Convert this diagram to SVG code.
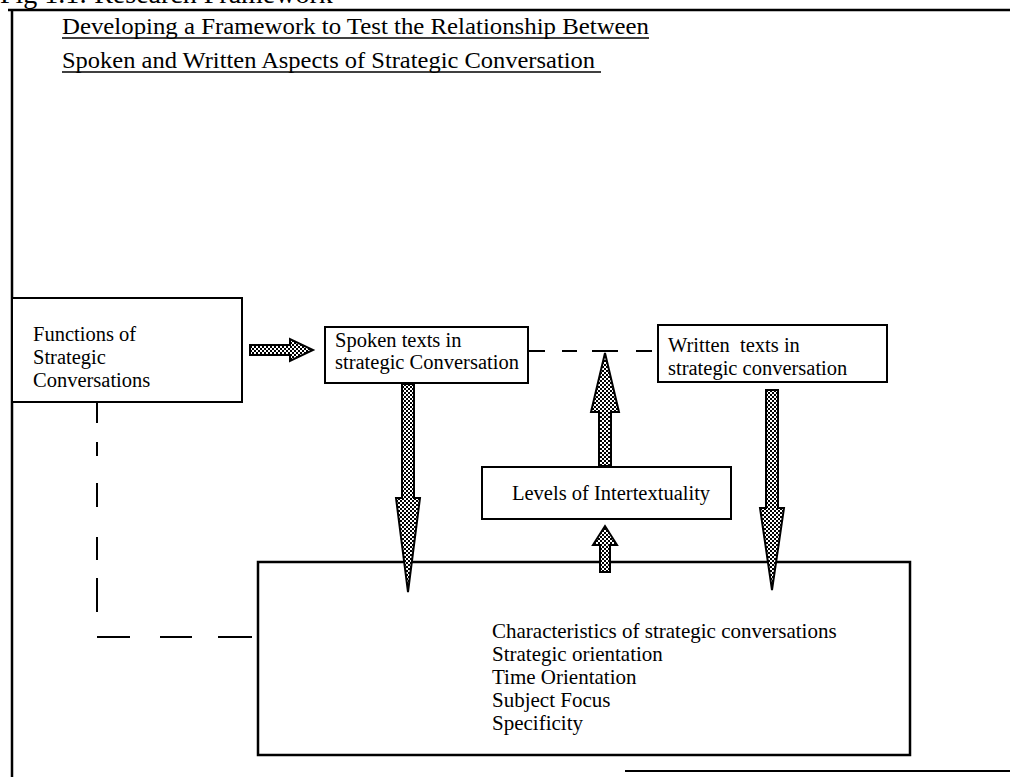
<svg xmlns="http://www.w3.org/2000/svg" width="1018" height="777" viewBox="0 0 1018 777">
<style>
.t{font-family:"Liberation Serif","Times New Roman",serif;font-size:20.5px;fill:#000}
.ttl{font-family:"Liberation Serif","Times New Roman",serif;font-size:24px;fill:#000}
.box{fill:#fff;stroke:#000;stroke-width:2}
.arr{fill:url(#dots);stroke:#000;stroke-width:2;stroke-linejoin:miter}
.dash{stroke:#000;stroke-width:2;fill:none}
.frame{stroke:#000;stroke-width:2.5;fill:none}
</style>
<defs>
<pattern id="dots" width="4" height="4" patternUnits="userSpaceOnUse">
<rect width="4" height="4" fill="#fff"/>
<rect width="2" height="2" fill="#000"/>
<rect x="2" y="2" width="2" height="2" fill="#000"/>
</pattern>
</defs>
<rect width="1018" height="777" fill="#fff"/>
<g id="frame">
<text class="ttl" x="0" y="3" style="font-size:28px">Fig 1.1: Research Framework</text>
<line class="frame" x1="8" y1="10" x2="1010" y2="10"/>
<line class="frame" x1="12" y1="10" x2="12" y2="777"/>
<line x1="625" y1="771" x2="1010" y2="771" stroke="#000" stroke-width="2"/>
</g>
<g id="title">
<text class="ttl" x="62" y="34" textLength="587" lengthAdjust="spacingAndGlyphs">Developing a Framework to Test the Relationship Between</text>
<line x1="62" y1="38" x2="649" y2="38" stroke="#000" stroke-width="1.5"/>
<text class="ttl" x="62" y="68" textLength="533" lengthAdjust="spacingAndGlyphs">Spoken and Written Aspects of Strategic Conversation</text>
<line x1="62" y1="72" x2="601" y2="72" stroke="#000" stroke-width="1.5"/>
</g>
<g id="connectors">
<g class="dash">
<line x1="97" y1="402" x2="97" y2="423"/>
<line x1="97" y1="442" x2="97" y2="456"/>
<line x1="97" y1="483" x2="97" y2="507"/>
<line x1="97" y1="537" x2="97" y2="560"/>
<line x1="97" y1="578" x2="97" y2="612"/>
<line x1="97" y1="637" x2="130" y2="637"/>
<line x1="160" y1="637" x2="192" y2="637"/>
<line x1="218" y1="637" x2="252" y2="637"/>
<line x1="529" y1="351" x2="545" y2="351"/>
<line x1="562" y1="351" x2="577" y2="351"/>
<line x1="592" y1="351" x2="618" y2="351"/>
<line x1="636" y1="351" x2="652" y2="351"/>
</g>
</g>
<g id="functions">
<rect class="box" x="12" y="298" width="230" height="104"/>
<text class="t" x="33" y="341">Functions of</text>
<text class="t" x="33" y="364">Strategic</text>
<text class="t" x="33" y="387">Conversations</text>
</g>
<g id="spoken">
<rect class="box" x="325" y="327" width="203" height="56"/>
<text class="t" x="335" y="347">Spoken texts in</text>
<text class="t" x="335" y="369">strategic Conversation</text>
</g>
<g id="written">
<rect class="box" x="658" y="325" width="229" height="57"/>
<text class="t" x="668" y="352" xml:space="preserve">Written  texts in</text>
<text class="t" x="668" y="375">strategic conversation</text>
</g>
<g id="levels">
<rect class="box" x="482" y="467" width="249" height="52"/>
<text class="t" x="512" y="500">Levels of Intertextuality</text>
</g>
<g id="characteristics">
<rect class="box" x="258" y="562" width="652" height="193" style="stroke-width:2.5"/>
<g class="t" style="font-size:21px">
<text x="492" y="638">Characteristics of strategic conversations</text>
<text x="492" y="661">Strategic orientation</text>
<text x="492" y="684">Time Orientation</text>
<text x="492" y="707">Subject Focus</text>
<text x="492" y="730">Specificity</text>
</g>
</g>
<g id="arrows">
<polygon class="arr" points="250,345 290,345 290,339 313,350 290,361 290,355 250,355"/>
<polygon class="arr" points="402,384 414,384 414,498 420,498 408,592 396,498 402,498"/>
<polygon class="arr" points="766,390 778,390 778,508 784,508 772,590 760,508 766,508"/>
<polygon class="arr" points="599,466 611,466 611,412 619,412 605,353 591,412 599,412"/>
<polygon class="arr" points="600,572 610,572 610,545 617,545 605,526 593,545 600,545"/>
</g>
</svg>
